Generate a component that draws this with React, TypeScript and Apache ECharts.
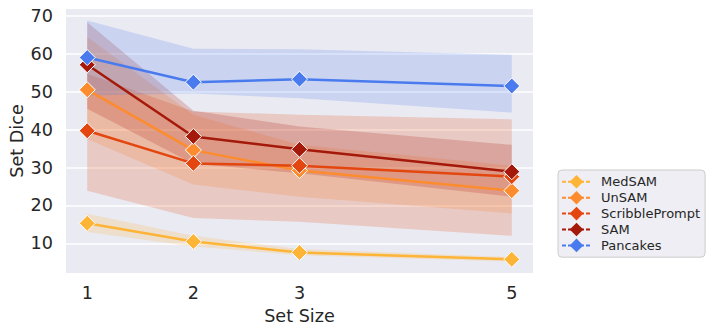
import React, { useEffect, useRef } from "react";
import * as echarts from "echarts";

const setSizes = [1, 2, 3, 5];
const seriesNames = ["MedSAM", "UnSAM", "ScribblePrompt", "SAM", "Pancakes"];
const colors = ["#FDB437", "#FD8C2E", "#E3460F", "#A5190A", "#4A7BEE"];

const medsamMean = [15.3, 10.5, 7.6, 5.8];
const unsamMean = [50.5, 34.6, 29.2, 23.9];
const scribbleMean = [39.7, 31.1, 30.5, 27.6];
const samMean = [57.1, 38.2, 34.8, 28.9];
const pancakesMean = [59.0, 52.5, 53.3, 51.5];

const medsamLow = [13.0, 9.2, 6.9, 5.2];
const medsamHigh = [17.8, 12.0, 8.5, 6.4];
const unsamLow = [37.5, 25.5, 22.3, 17.9];
const unsamHigh = [64.4, 43.9, 36.0, 30.5];
const scribbleLow = [23.9, 16.7, 15.7, 12.0];
const scribbleHigh = [54.7, 44.8, 43.9, 42.7];
const samLow = [45.5, 31.0, 28.5, 22.3];
const samHigh = [68.3, 45.0, 40.8, 36.0];
const pancakesLow = [49.0, 49.5, 48.3, 44.5];
const pancakesHigh = [68.8, 61.3, 61.2, 59.7];

const xTickLabels = [1, 2, 3, 5];
const yTickLabels = [10, 20, 30, 40, 50, 60, 70];

const means = [medsamMean, unsamMean, scribbleMean, samMean, pancakesMean];
const lows = [medsamLow, unsamLow, scribbleLow, samLow, pancakesLow];
const highs = [medsamHigh, unsamHigh, scribbleHigh, samHigh, pancakesHigh];

function hexToRgba(hex: string, a: number) {
  const n = parseInt(hex.slice(1), 16);
  return `rgba(${(n >> 16) & 255},${(n >> 8) & 255},${n & 255},${a})`;
}

const FONT = "DejaVu Sans";
const TEXT = "#262626";

export default function App() {
  const ref = useRef<HTMLDivElement>(null);
  useEffect(() => {
    if (!ref.current) return;
    const chart = echarts.init(ref.current, undefined, { renderer: "svg" });

    const bandSeries = seriesNames.map((name, s) => ({
      type: "custom",
      name: name + " band",
      z: 1,
      silent: true,
      clip: true,
      data: setSizes.map((x, i) => [x, lows[s][i], highs[s][i]]),
      encode: { x: 0, y: [1, 2] },
      renderItem: (params: any, api: any) => {
        if (params.dataIndex !== 0) return null;
        const pts: number[][] = [];
        setSizes.forEach((x, i) => pts.push(api.coord([x, highs[s][i]])));
        for (let i = setSizes.length - 1; i >= 0; i--) {
          pts.push(api.coord([setSizes[i], lows[s][i]]));
        }
        return {
          type: "polygon",
          shape: { points: pts },
          style: { fill: hexToRgba(colors[s], 0.2), stroke: null },
        };
      },
    }));

    const lineSeries = seriesNames.map((name, s) => ({
      type: "line",
      name,
      z: 2 + s,
      data: setSizes.map((x, i) => [x, means[s][i]]),
      symbol: "diamond",
      symbolSize: 16,
      showAllSymbol: true,
      color: colors[s],
      lineStyle: { color: colors[s], width: 2.5 },
      itemStyle: { color: colors[s], borderColor: "#ffffff", borderWidth: 1 },
      emphasis: { disabled: true },
    }));

    chart.setOption({
      animation: false,
      textStyle: { fontFamily: FONT },
      grid: {
        left: 66,
        top: 9,
        width: 467,
        height: 264,
        show: true,
        backgroundColor: "#EAEAF2",
        borderWidth: 0,
        containLabel: false,
        outerBoundsMode: "none",
      },
      legend: {
        orient: "vertical",
        left: 558,
        top: 170,
        data: seriesNames,
        itemWidth: 29,
        itemHeight: 17,
        itemGap: 2.3,
        padding: [5, 5, 5, 3],
        backgroundColor: "#EEEEF4",
        borderColor: "#CCCCCC",
        borderWidth: 1,
        borderRadius: 4,
        lineStyle: { type: [4, 2], width: 2 },
        itemStyle: { borderWidth: 0 },
        textStyle: { fontFamily: FONT, fontSize: 13, color: TEXT, padding: [0, 0, 0, 5] },
        selectedMode: false,
      },
      xAxis: {
        type: "value",
        min: 0.8,
        max: 5.2,
        name: "Set Size",
        nameLocation: "middle",
        nameGap: 34,
        nameMoveOverlap: false,
        nameTextStyle: { fontFamily: FONT, fontSize: 17.6, color: TEXT },
        axisLine: { show: false },
        axisTick: { show: false },
        splitLine: { show: false },
        axisLabel: {
          customValues: xTickLabels,
          formatter: (v: number) => String(v),
          fontFamily: FONT,
          fontSize: 17.6,
          color: TEXT,
          margin: 11,
        },
      },
      yAxis: {
        type: "value",
        min: 2.2,
        max: 71.8,
        name: "Set Dice",
        nameLocation: "middle",
        nameGap: 40,
        nameMoveOverlap: false,
        nameTextStyle: { fontFamily: FONT, fontSize: 17.6, color: TEXT },
        axisLine: { show: false },
        axisTick: { show: false },
        splitLine: {
          show: true,
          showMinLine: false,
          showMaxLine: false,
          lineStyle: { color: "#ffffff", width: 1.5 },
        },
        axisLabel: {
          showMinLabel: false,
          showMaxLabel: false,
          formatter: (v: number) => (yTickLabels.includes(v) ? String(v) : ""),
          fontFamily: FONT,
          fontSize: 17.6,
          color: TEXT,
          margin: 13,
        },
      },
      series: [...bandSeries, ...lineSeries],
    });
    return () => chart.dispose();
  }, []);
  return (
    <div
      ref={ref}
      style={{ position: "absolute", left: 0, top: 0, width: 714, height: 334 }}
    />
  );
}
